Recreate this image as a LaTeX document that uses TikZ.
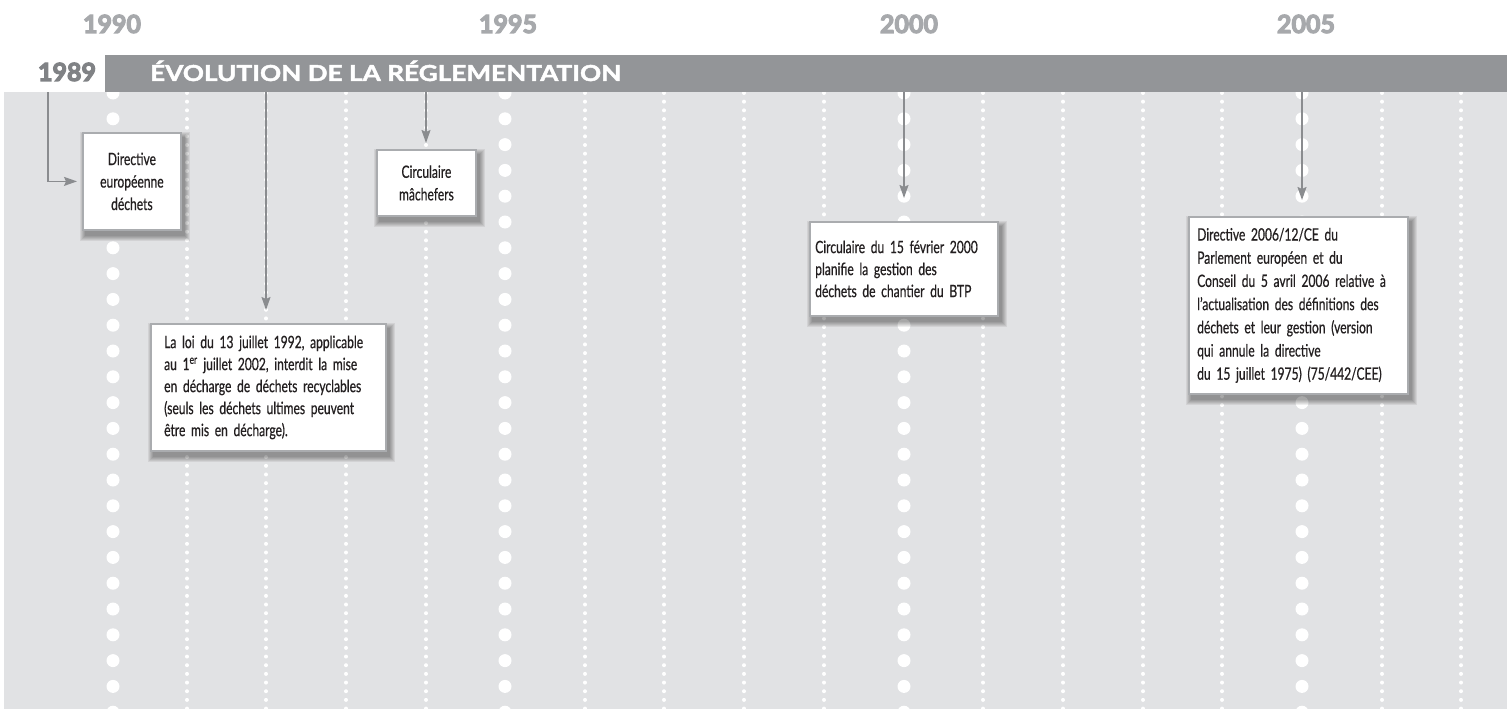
\documentclass[tikz,border=0pt]{standalone}
\usepackage{fontspec}
\setmainfont{Lato}
\newfontfamily\boxfont[FakeStretch=0.71,FakeBold=0.6]{Lato}
\newfontfamily\titlefont[FakeStretch=1.19,BoldFeatures={FakeBold=2}]{Lato}
\newfontfamily\yearfont[BoldFeatures={FakeBold=4.5}]{Lato}
\usetikzlibrary{arrows.meta}
\definecolor{bggray}{RGB}{225,226,228}
\definecolor{bargray}{RGB}{147,149,152}
\definecolor{yeargray}{RGB}{167,169,172}
\definecolor{darkyear}{RGB}{128,130,133}
\definecolor{arrowgray}{RGB}{138,140,143}
\definecolor{boxborder}{RGB}{170,172,175}
\definecolor{textdark}{RGB}{35,31,32}
\pgfdeclarelayer{bglayer}
\pgfdeclarelayer{shadowlayer}
\pgfsetlayers{bglayer,shadowlayer,main}
\newcommand{\evshadow}[1]{%
  \begin{pgfonlayer}{shadowlayer}
    \foreach \r in {0,...,5}{%
      \fill[black,opacity=0.065]
        ([xshift={(3-\r)*1pt},yshift={(-5+\r)*1pt}]#1.north west) rectangle
        ([xshift={(3+\r)*1pt},yshift={(-5-\r)*1pt}]#1.south east);
    }
  \end{pgfonlayer}}
\begin{document}
\begin{tikzpicture}[x=1pt,y=-1pt,
  smalldots/.style={white, line width=4pt, line cap=round, dash pattern=on 0pt off 8.67pt},
  bigdots/.style={white, line width=13pt, line cap=round, dash pattern=on 0pt off 25.8pt},
  yearlbl/.style={text=yeargray, font=\yearfont\bfseries\fontsize{25}{28}\selectfont, inner sep=0pt, anchor=base},
  startlbl/.style={text=darkyear, font=\yearfont\bfseries\fontsize{25}{28}\selectfont, inner sep=0pt, anchor=base},
  titlelbl/.style={text=white, font=\titlefont\bfseries\fontsize{22}{26}\selectfont, inner sep=0pt, anchor=base west},
  evbox/.style={draw=boxborder, line width=1.8pt, fill=white, anchor=north west, inner sep=0pt},
  evtext/.style={text=textdark, font=\boxfont\fontsize{17}{#1}\selectfont, inner sep=0pt},
  evtext/.default=22.5,
  arr/.style={draw=arrowgray, line width=1.5pt, -{Stealth[length=13pt,width=9pt,inset=2pt]}}
]
\useasboundingbox (0,0) rectangle (1507,709);
\begin{pgfonlayer}{bglayer}
  \fill[bggray] (4,92) rectangle (1507,709);
  \foreach \cx in {187,266,346,426,585,664,744,824,983,1063,1143,1222,1382,1461}
    \draw[smalldots] (\cx,93) -- (\cx,712);
  \foreach \cx in {113,505,904,1302}
    \draw[bigdots] (\cx,93) -- (\cx,716);
  \fill[bargray] (105,55) rectangle (1507,92);
\end{pgfonlayer}

% year labels
\node[yearlbl] (y1990) at (112,33) {1990};
\node[yearlbl] (y1995) at (508,33) {1995};
\node[yearlbl] (y2000) at (909,33) {2000};
\node[yearlbl] (y2005) at (1306,33) {2005};
\node[startlbl] (y1989) at (67,81) {1989};
\node[titlelbl] (title) at (150,81) {ÉVOLUTION DE LA RÉGLEMENTATION};

% boxes
\node[evbox, minimum width=98pt, minimum height=97pt] (b1989) at (82,132) {};
\node[evtext, align=center] (t1989) at (b1989.center) {Directive\\européenne\\déchets};
\node[evbox, minimum width=99pt, minimum height=66pt] (b1993) at (376,149) {};
\node[evtext, align=center] (t1993) at (b1993.center) {Circulaire\\mâchefers};
\node[evbox, minimum width=235pt, minimum height=127pt] (b1992) at (150,323) {};
\node[evtext=22, anchor=west, text width=230pt, align=left] (t1992) at ([xshift=14pt]b1992.west)
  {La loi du 13 juillet 1992, applicable\\
   au 1\textsuperscript{er} juillet 2002, interdit la mise\\
   en décharge de déchets recyclables\\
   (seuls les déchets ultimes peuvent\\
   être mis en décharge).};
\node[evbox, minimum width=188pt, minimum height=94pt] (b2000) at (809,221) {};
\node[evtext=22, anchor=west, text width=185pt, align=left] (t2000) at ([xshift=6pt]b2000.west)
  {Circulaire du 15 février 2000\\
   planifie la gestion des\\
   déchets de chantier du BTP};
\node[evbox, minimum width=219pt, minimum height=177pt] (b2006) at (1188,216) {};
\node[evtext=23.2, anchor=west, text width=215pt, align=left] (t2006) at ([xshift=9pt]b2006.west)
  {Directive 2006/12/CE du\\
   Parlement européen et du\\
   Conseil du 5 avril 2006 relative à\\
   l’actualisation des définitions des\\
   déchets et leur gestion (version\\
   qui annule la directive\\
   du 15 juillet 1975) (75/442/CEE)};

\evshadow{b1989}
\evshadow{b1993}
\evshadow{b1992}
\evshadow{b2000}
\evshadow{b2006}

% connectors
\coordinate (s1989) at (48,92);
\coordinate (s1992) at (266,92);
\coordinate (s1993) at (426,92);
\coordinate (s2000) at (904,92);
\coordinate (s2006) at (1302,92);
\draw[arr, shorten >=5pt] (s1989) |- (b1989.west);
\draw[arr, shorten >=13pt] (s1992) -- (s1992 |- b1992.north);
\draw[arr, shorten >=6pt] (s1993) -- (s1993 |- b1993.north);
\draw[arr, shorten >=23pt] (s2000) -- (s2000 |- b2000.north);
\draw[arr, shorten >=16pt] (s2006) -- (s2006 |- b2006.north);
\end{tikzpicture}
\end{document}
